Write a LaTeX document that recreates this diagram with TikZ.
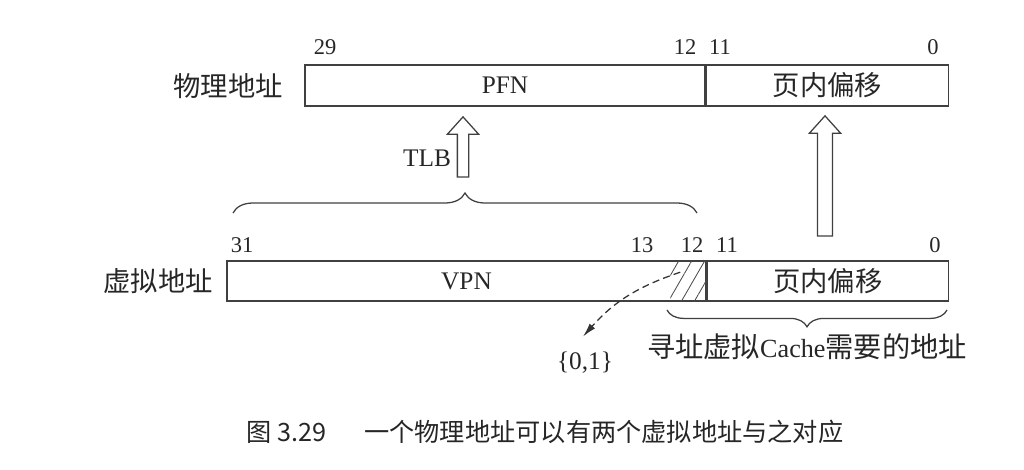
\documentclass[tikz,border=0pt]{standalone}
\usepackage{fontspec}
\setmainfont{Liberation Serif}
\newfontfamily\cjk[Scale=1.08]{Noto Sans CJK SC}
\usetikzlibrary{positioning,shapes.arrows,arrows.meta,decorations.pathreplacing,patterns.meta}

\begin{document}
\begin{tikzpicture}[
  x=0.025cm, y=-0.025cm,
  font=\fontsize{18}{20}\selectfont,
  field/.style={
    draw=black!75, line width=0.9pt,
    minimum height=1.02cm, inner sep=0pt,
    text=black!85,
  },
  hatch/.style={
    draw=none, inner sep=0pt, minimum height=1cm,
    pattern={Lines[angle=60,distance=8pt,line width=0.6pt]}, pattern color=black!70,
  },
  bitno/.style={font=\fontsize{16}{18}\selectfont, text=black!85, inner sep=1pt},
  lbl/.style={text=black!85, inner sep=1pt},
  hollow/.style={
    single arrow, draw=black!75, line width=0.9pt, rotate=90,
    inner xsep=0pt, inner ysep=#1, minimum width=0.75cm, single arrow tip angle=84,
    single arrow head extend=0.375cm-#1, single arrow head indent=0pt,
  },
  curly/.style={draw=black!75, line width=0.9pt, decorate,
    decoration={brace, amplitude=#1}},
  pick/.style={draw=black!80, line width=0.9pt, dash pattern=on 5pt off 3pt,
    -{Latex[length=3.5mm,width=1.8mm]}},
]
\useasboundingbox (0,0) rectangle (1024,469);

% physical address
\node[field, minimum width=10cm] (pfn) at (505,85.5) {PFN};
\node[field, minimum width=6.05cm, anchor=west] (poff) at (pfn.east) {\cjk 页内偏移};
\node[lbl] (plbl) at (228,86) {\cjk 物理地址};
\node[bitno] (p29) at (325,47) {29};
\node[bitno] (p12) at (685,47) {12};
\node[bitno] (p11) at (720,47) {11};
\node[bitno] (p0) at (933,47) {0};

% virtual address
\node[field, minimum width=11.975cm, minimum height=1cm] (vpn) at (466.5,281) {VPN};
\node[field, minimum width=6.025cm, minimum height=1cm, anchor=west] (voff) at (vpn.east) {\cjk 页内偏移};
\node[hatch, minimum width=0.9cm, anchor=east] (vbit) at (vpn.east) {};
\node[lbl] (vlbl) at (158,281) {\cjk 虚拟地址};
\node[bitno] (v31) at (242,245) {31};
\node[bitno] (v13) at (642,245) {13};
\node[bitno] (v12) at (692,245) {12};
\node[bitno] (v11) at (727,245) {11};
\node[bitno] (v0) at (935,245) {0};

% translation
\node[hollow=0.125cm, minimum height=1.5cm] (tlbarrow) at (463,150) {};
\node[lbl] (tlb) at (427,158) {TLB};
\node[hollow=0.17cm, minimum height=3cm] (offarrow) at (825,180) {};

\draw[curly=0.5cm] (233,213) -- (697,213);
\draw[curly=0.42cm] (947,310) -- (667,310);
\node[lbl, font=\fontsize{18.6}{21}\selectfont] (cachelbl) at (807,347) {{\cjk 寻址虚拟}Cache{\cjk 需要的地址}};

\node[lbl] (zeroone) at (585,363) {\{0,1\}};
\draw[pick] ([xshift=-0.2cm,yshift=0.22cm]vbit.center) to[bend right=15] ([xshift=-0.05cm,yshift=0.35cm]zeroone.north);

\node[lbl, font=\fontsize{16.6}{19}\selectfont] (caption) at (545,432) {\cjk 图 3.29\hspace{1.5em}一个物理地址可以有两个虚拟地址与之对应};

\end{tikzpicture}
\end{document}
